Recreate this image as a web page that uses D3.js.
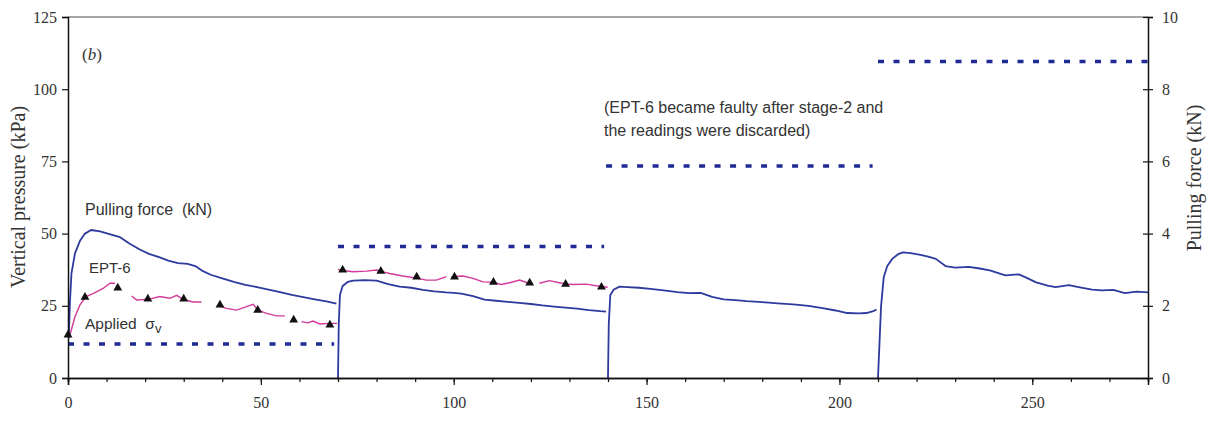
<!DOCTYPE html>
<html>
<head>
<meta charset="utf-8">
<script src="https://cdn.jsdelivr.net/npm/d3@7"></script>
<style>
  body { margin: 0; background: #fff; }
  svg text { font-family: "Liberation Serif", "Times New Roman", serif; }
  .sans text { font-family: "Liberation Sans", Arial, sans-serif; }
</style>
</head>
<body>
<div id="chart"></div>
<script>
// time axis ticks
const xMajor = [0, 50, 100, 150, 200, 250];
const xMinor = d3.range(0, 281, 10);
const leftTicks = [0, 25, 50, 75, 100, 125];
const rightTicks = [0, 2, 4, 6, 8, 10];

// pulling force (kN), one array per loading stage
const force1 = [[0.2,1.1],[0.5,2.1],[0.9,2.9],[1.8,3.45],[3.1,3.8],[4.4,4.0],[6,4.1],[8.3,4.06],[11,3.98],[13.5,3.9],[16,3.72],[18.6,3.56],[21,3.44],[23.8,3.34],[26,3.25],[28.5,3.18],[31,3.16],[33,3.1],[35,2.96],[37,2.86],[40,2.76],[43,2.66],[46,2.58],[49,2.52],[52,2.45],[55,2.38],[58,2.3],[61,2.24],[64,2.18],[67,2.12],[69.6,2.06]];
const force2 = [[70,0],[70.2,1.5],[70.5,2.3],[71.2,2.55],[72.5,2.66],[74,2.7],[77,2.71],[80,2.7],[83,2.6],[86,2.53],[89,2.5],[92,2.44],[95,2.4],[98,2.37],[100,2.36],[102,2.34],[105,2.27],[108,2.17],[111,2.14],[114,2.11],[117,2.08],[120,2.05],[123,2.01],[126,1.98],[129,1.95],[132,1.92],[135,1.88],[138,1.85],[139.5,1.84]];
const force3 = [[140,0],[140.2,1.5],[140.6,2.3],[141.5,2.45],[143,2.53],[145,2.52],[148,2.5],[151,2.47],[155,2.42],[158,2.38],[161,2.35],[164,2.36],[167,2.25],[170,2.18],[173,2.16],[176,2.13],[180,2.1],[184,2.07],[188,2.04],[192,2.0],[196,1.93],[199,1.87],[202,1.8],[205,1.79],[207,1.8],[209,1.86],[209.6,1.9]];
const force4 = [[210,0],[210.4,1.0],[210.8,2.0],[211.5,2.8],[212.4,3.1],[213.7,3.3],[215.2,3.43],[216.5,3.48],[218.5,3.46],[221,3.41],[223,3.36],[225,3.3],[227.5,3.1],[230,3.06],[233.5,3.08],[236,3.04],[239,2.98],[241,2.91],[243,2.84],[246.5,2.87],[248,2.8],[251,2.65],[254,2.56],[256,2.52],[259.5,2.57],[262,2.52],[265.5,2.45],[268,2.43],[271,2.44],[274,2.35],[277,2.39],[280,2.37]];

// EPT-6 readings (kPa), broken record segments
const ept1 = [[0.5,14.9],[1.8,21.2],[3.1,25.3],[4.7,28.2],[6.6,29.3],[9.1,31.0],[10.9,32.8],[12.2,32.8]];
const ept2 = [[16.5,28.4],[17.8,27.0],[21.1,27.3],[23.8,28.2],[26.4,27.6],[28.2,28.6],[29.4,27.6],[30.4,27.0],[32.5,26.3],[34.6,26.3]];
const ept3 = [[38.9,25.1],[41.1,24.1],[43.7,23.5],[46.3,24.7],[48.0,25.5],[49.3,23.5],[51.5,22.4],[54.1,21.5],[56.2,21.5]];
const ept4 = [[60.5,19.5],[62.2,19.1],[63.5,19.7],[65.3,18.7],[67.5,18.9],[69.8,18.9]];
const ept5 = [[70.0,37.6],[71.2,37.2],[73.9,36.8],[77.4,37.0],[80.0,37.4],[81.1,36.9],[83.4,36.2],[86.8,35.3],[90.4,34.6],[92.9,33.9],[95.5,33.9],[98.1,35.1]];
const ept6 = [[99.4,35.1],[102.4,35.3],[105.0,34.5],[107.6,33.3],[110.3,33.1],[112.3,32.4],[114.5,33.0],[117.1,33.9],[119.4,32.8],[120.5,32.8]];
const ept7 = [[122.2,32.8],[124.8,33.7],[127.4,33.0],[129,32.6],[130.9,32.4],[134.3,32.5],[138.2,31.7],[139.9,31.4]];
const eptMarkers = [[0,14.9],[4.4,28.0],[12.9,31.2],[20.7,27.4],[30.0,27.4],[39.4,25.3],[49.2,23.5],[58.5,20.1],[67.9,18.4],
                    [71.2,37.4],[81.1,37.0],[90.4,35.0],[100.2,35.0],[110.3,33.2],[119.7,32.9],[129,32.5],[138.3,31.5]];

// applied vertical stress per stage (kPa)
const stageStart = [0, 70, 139.5, 210];
const stageEnd = [69, 139, 208.6, 280];
const appliedSigma = [11.8, 45.5, 73.4, 109.6];

const W = 1212, H = 426;
const margin = { top: 17, right: 64, bottom: 48, left: 68 };
const w = W - margin.left - margin.right, h = H - margin.top - margin.bottom;

const svg = d3.select("#chart").append("svg").attr("width", W).attr("height", H);
const g = svg.append("g").attr("transform", `translate(${margin.left},${margin.top})`);

const x = d3.scaleLinear().domain([0, 280]).range([0, w]);
const yL = d3.scaleLinear().domain([0, 125]).range([h, 0]);
const yR = d3.scaleLinear().domain([0, 10]).range([h, 0]);

// top border
g.append("line").attr("x1", 0).attr("x2", w).attr("y1", 0).attr("y2", 0)
  .attr("stroke", "#8a8a8a").attr("stroke-width", 1.5);

// applied sigma dotted lines
g.selectAll(".applied").data(appliedSigma).enter().append("line")
  .attr("x1", (d, i) => x(stageStart[i])).attr("x2", (d, i) => x(stageEnd[i]))
  .attr("y1", d => yL(d)).attr("y2", d => yL(d))
  .attr("stroke", "#1f2a94").attr("stroke-width", 3.5)
  .attr("stroke-dasharray", "6,9.5");

// EPT-6 pink traces
const lineL = d3.line().x(d => x(d[0])).y(d => yL(d[1]));
g.selectAll(".ept").data([ept1, ept2, ept3, ept4, ept5, ept6, ept7]).enter().append("path")
  .attr("d", lineL).attr("fill", "none").attr("stroke", "#d2399a").attr("stroke-width", 1.4);

// pulling force blue traces
const lineR = d3.line().x(d => x(d[0])).y(d => yR(d[1]));
g.selectAll(".force").data([force1, force2, force3, force4]).enter().append("path")
  .attr("d", lineR).attr("fill", "none").attr("stroke", "#2d3a9e").attr("stroke-width", 1.8)
  .attr("stroke-linejoin", "round");

// triangle markers
g.selectAll(".tri").data(eptMarkers).enter().append("path")
  .attr("d", d3.symbol().type(d3.symbolTriangle).size(34))
  .attr("transform", d => `translate(${x(d[0])},${yL(d[1])})`)
  .attr("fill", "#111");

// axes
const styleAxis = sel => {
  sel.select(".domain").attr("stroke", "#111").attr("stroke-width", 1.5);
  sel.selectAll(".tick line").attr("stroke", "#111").attr("stroke-width", 1.2);
  sel.selectAll("text").attr("font-family", "Liberation Serif, serif").attr("font-size", 16).attr("fill", "#333");
};

const xMinorAxis = g.append("g").attr("transform", `translate(0,${h})`)
  .call(d3.axisBottom(x).tickValues(xMinor).tickSize(4).tickFormat(""));
styleAxis(xMinorAxis);
const xAxis = g.append("g").attr("transform", `translate(0,${h})`)
  .call(d3.axisBottom(x).tickValues(xMajor).tickSize(7).tickPadding(12).tickFormat(d3.format("d")));
styleAxis(xAxis);

const leftAxis = g.append("g").call(d3.axisLeft(yL).tickValues(leftTicks).tickSize(6).tickPadding(5));
styleAxis(leftAxis);

const rightAxis = g.append("g").attr("transform", `translate(${w},0)`)
  .call(d3.axisRight(yR).tickValues(rightTicks).tickSize(5).tickPadding(9));
styleAxis(rightAxis);
rightAxis.selectAll(".tick line").attr("x1", -5);

// axis titles
svg.append("text").attr("transform", "translate(25,197) rotate(-90)")
  .attr("text-anchor", "middle").attr("font-size", 20).attr("fill", "#333")
  .text("Vertical pressure (kPa)");
svg.append("text").attr("transform", "translate(1201,178) rotate(-90)")
  .attr("text-anchor", "middle").attr("font-size", 20).attr("fill", "#333")
  .text("Pulling force (kN)");

// annotations
svg.append("text").attr("x", 82).attr("y", 60).attr("font-size", 17).attr("fill", "#333")
  .html('(<tspan font-style="italic">b</tspan>)');
const ann = svg.append("g").attr("class", "sans").attr("font-size", 16).attr("fill", "#333");
ann.append("text").attr("x", 85).attr("y", 215).text("Pulling force  (kN)").style("white-space", "pre");
ann.append("text").attr("x", 89).attr("y", 273).attr("font-size", 15).text("EPT-6");
const ap = ann.append("text").attr("x", 85).attr("y", 329).attr("font-size", 15.5).style("white-space", "pre").text("Applied  σ");
ap.append("tspan").attr("dy", 4).attr("font-size", 13).text("v");
ann.append("text").attr("x", 604).attr("y", 113).text("(EPT-6 became faulty after stage-2 and");
ann.append("text").attr("x", 604).attr("y", 136).text("the readings were discarded)");
</script>
</body>
</html>
